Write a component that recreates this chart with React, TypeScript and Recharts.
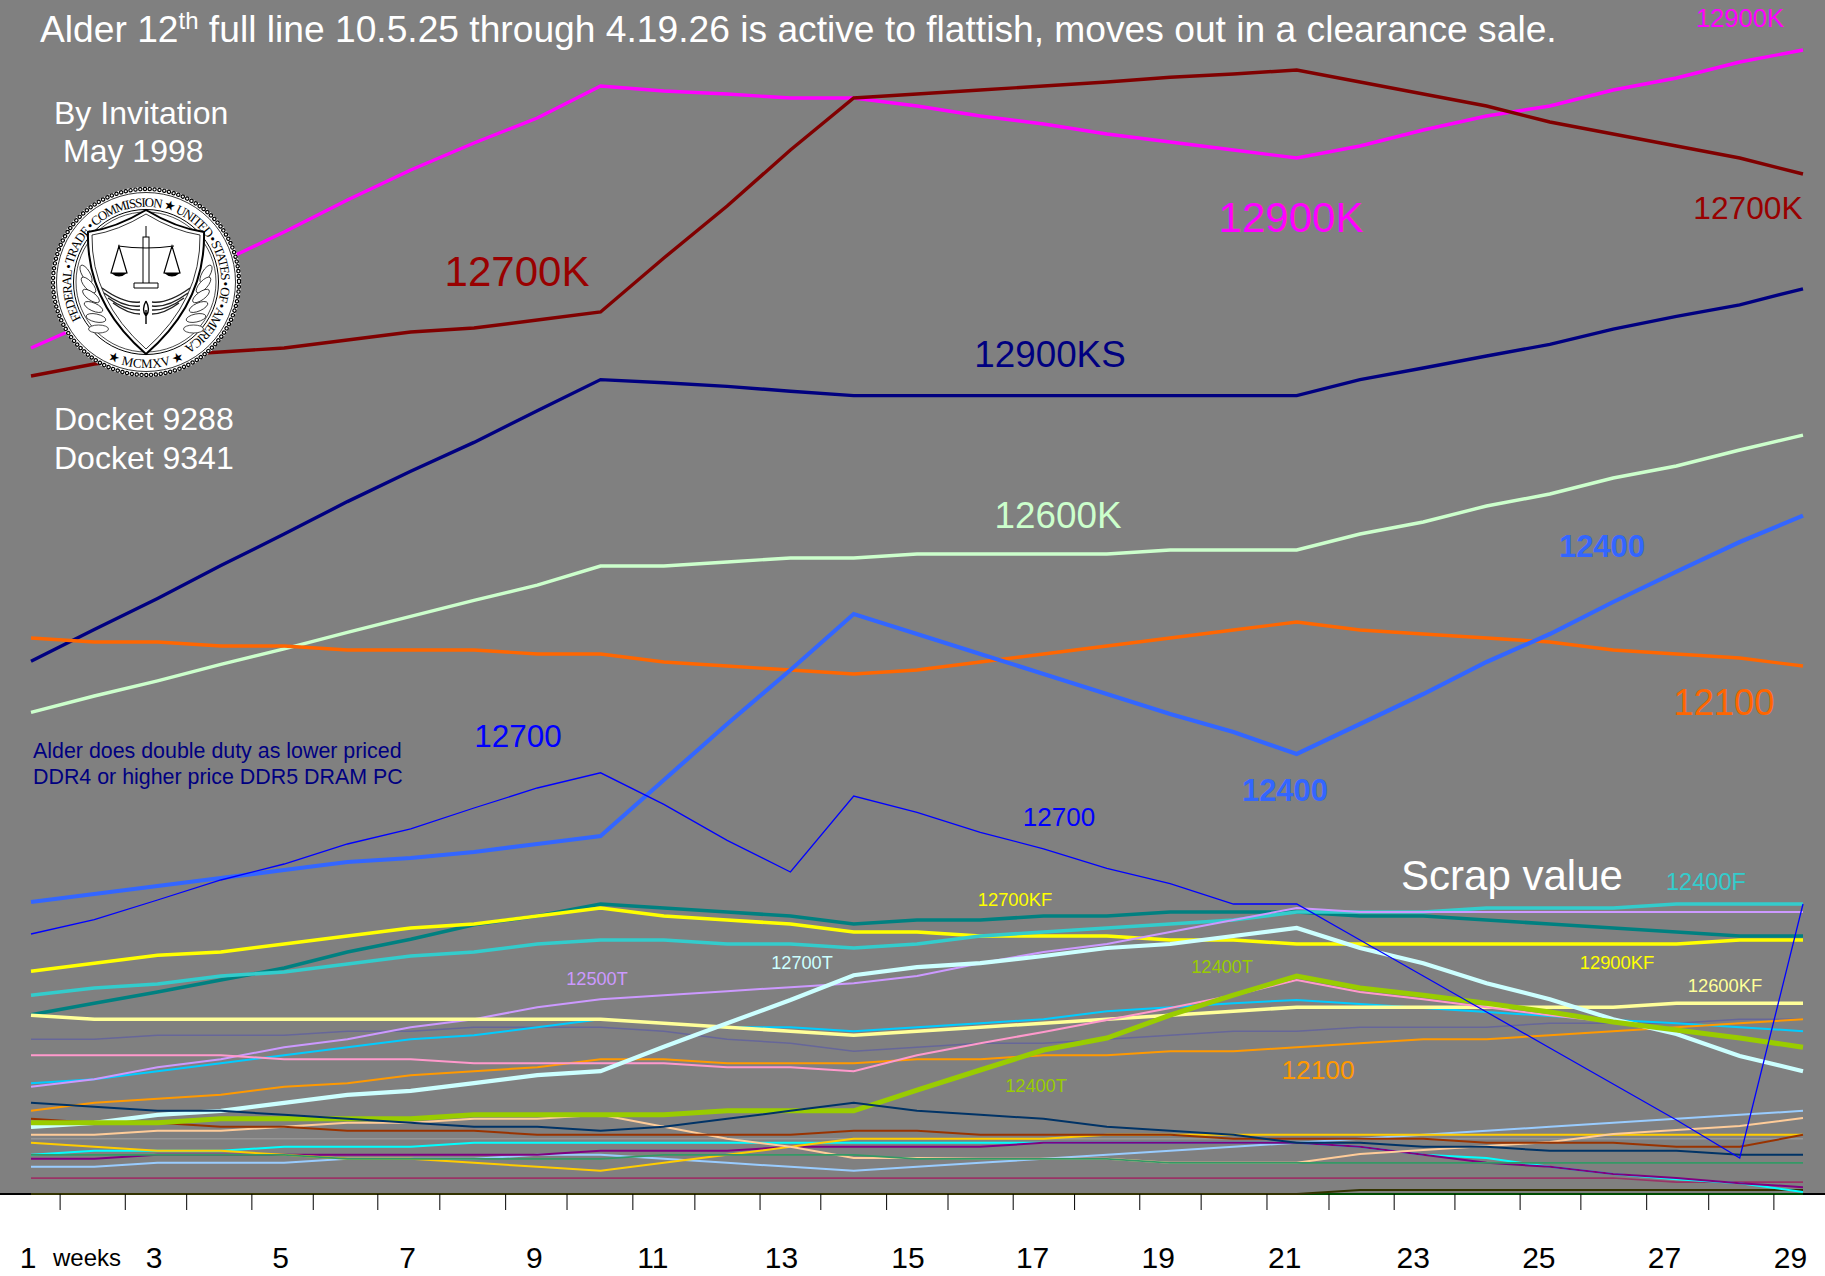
import { LineChart, Line, XAxis, YAxis } from "recharts";

const WEEKS = [1, 2, 3, 4, 5, 6, 7, 8, 9, 10, 11, 12, 13, 14, 15, 16, 17, 18, 19, 20, 21, 22, 23, 24, 25, 26, 27, 28, 29];
const WEEK_LABELS = [1, 3, 5, 7, 9, 11, 13, 15, 17, 19, 21, 23, 25, 27, 29];
const TICK_MARKS = [1.46, 2.49, 3.46, 4.49, 5.46, 6.48, 7.46, 8.5, 9.47, 10.51, 11.49, 12.52, 13.48, 14.52, 15.49, 16.52, 17.49, 18.52, 19.49, 20.53, 21.51, 22.54, 23.5, 24.53, 25.49, 26.53, 27.51, 28.54];

// prices
const i12900K = [211.5, 218.5, 225.75, 233, 240.5, 248.5, 256, 262.75, 269, 277, 275.75, 275, 274, 274, 272, 269.5, 267.5, 265, 263, 261, 259, 262, 266, 269.5, 272, 276, 279, 283, 286];
const i12700K = [204.5, 207.5, 209.5, 210.5, 211.5, 213.5, 215.5, 216.5, 218.5, 220.5, 234, 247, 261, 274, 275, 276, 277, 278, 279.2, 280, 281, 278, 275, 272, 268, 265, 262, 259, 255];
const i12900KS = [133.2, 141.1, 148.9, 157.1, 165, 173.1, 180.7, 187.9, 195.8, 203.6, 202.8, 201.9, 200.7, 199.6, 199.6, 199.6, 199.6, 199.6, 199.6, 199.6, 199.6, 203.6, 206.5, 209.5, 212.4, 216.2, 219.4, 222.3, 226.3];
const i12600K = [120.4, 124.5, 128.3, 132.4, 136.3, 140.4, 144.4, 148.4, 152.2, 157, 157, 158, 159, 159, 160, 160, 160, 160, 161, 161, 161, 165, 168, 172, 175, 179, 182, 186, 189.7];
const i12100F = [139, 138, 138, 137, 137, 136, 136, 136, 135, 135, 133, 132, 131, 130, 131, 133, 135, 137, 139, 141, 143, 141, 140, 139, 138, 136, 135, 134, 132];
const i12400 = [73, 75, 77, 79, 81, 83, 84, 85.5, 87.5, 89.5, 103.5, 117.5, 131, 145, 140, 135, 130, 125, 120, 115.5, 110, 117.5, 125, 133, 140, 148, 155.6, 163, 169.6];
const i12700 = [65, 68.6, 73.5, 78.5, 82.5, 87.5, 91.3, 96.5, 101.5, 105.3, 97.4, 88.4, 80.5, 99.5, 95.4, 90.4, 86.3, 81.4, 77.6, 72.5, 72.5, 63.5, 54.5, 45.5, 36.5, 27.5, 18.5, 9, 72.5];
const i12700KF = [55.7, 57.7, 59.7, 60.5, 62.5, 64.5, 66.5, 67.5, 69.5, 71.5, 69.5, 68.5, 67.5, 65.5, 65.5, 64.5, 64.5, 64.5, 63.5, 63.5, 62.5, 62.5, 62.5, 62.5, 62.5, 62.5, 62.5, 63.5, 63.5];
const i12900KF = [44.8, 47.7, 50.5, 53.5, 56.5, 60.5, 63.7, 67.3, 69.5, 72.5, 71.5, 70.5, 69.5, 67.5, 68.5, 68.5, 69.5, 69.5, 70.5, 70.5, 70.5, 69.5, 69.5, 68.5, 67.5, 66.5, 65.5, 64.5, 64.5];
const i12400F = [49.7, 51.5, 52.5, 54.5, 55.5, 57.5, 59.5, 60.5, 62.5, 63.5, 63.5, 62.5, 62.5, 61.5, 62.5, 64.5, 65.5, 66.5, 67.5, 68.5, 70.5, 70.5, 70.5, 71.5, 71.5, 71.5, 72.5, 72.5, 72.5];
const i12500T = [26.8, 28.7, 31.7, 33.7, 36.7, 38.7, 41.7, 43.7, 46.7, 48.7, 49.7, 50.7, 51.7, 52.7, 54.5, 57.7, 60.5, 62.5, 65.5, 68.5, 71.5, 70.5, 70.5, 70.5, 70.5, 70.5, 70.5, 70.5, 70.5];
const i12700T = [16.8, 17.8, 19.8, 20.8, 22.8, 24.8, 25.8, 27.7, 29.7, 30.7, 36.8, 42.7, 48.5, 54.7, 56.7, 57.7, 59.5, 61.5, 62.5, 64.5, 66.5, 61.5, 57.7, 52.7, 48.7, 43.7, 40, 34.5, 30.7];
const i12600KF = [44.7, 43.7, 43.7, 43.7, 43.7, 43.7, 43.7, 43.7, 43.7, 43.7, 42.7, 41.7, 40.7, 39.7, 40.7, 41.7, 42.7, 43.7, 44.7, 45.7, 46.7, 46.7, 46.7, 46.7, 46.7, 46.7, 47.7, 47.7, 47.7];
const i12500 = [27.7, 28.7, 30.7, 32.7, 34.7, 36.7, 38.7, 39.7, 41.7, 43.7, 42.7, 41.7, 41.7, 40.7, 41.7, 42.7, 43.7, 45.7, 46.7, 47.7, 48.5, 47.5, 46.5, 45.5, 44.5, 43.5, 42.7, 41.7, 40.7];
const i12600T = [38.7, 38.7, 39.7, 39.7, 39.7, 40.7, 40.7, 41.7, 41.7, 41.7, 40.7, 38.7, 37.7, 35.7, 36.7, 37.7, 37.7, 38.7, 39.7, 40.7, 40.7, 41.7, 41.7, 41.7, 42.7, 42.7, 42.7, 43.7, 43.7];
const i12400Tb = [34.7, 34.7, 34.7, 34.7, 33.7, 33.7, 33.7, 32.7, 32.7, 32.7, 32.7, 31.7, 31.7, 30.7, 34.7, 37.7, 40.5, 43.5, 46.5, 49.7, 53.5, 50.5, 48.7, 46.7, 44.7, 43, null, null, null];
const i12400T = [17.8, 17.8, 17.8, 18.8, 18.8, 18.8, 18.8, 19.8, 19.8, 19.8, 19.8, 20.8, 20.8, 20.8, 26, 31, 36, 39, 44.7, 49.7, 54.5, 51.5, 49.7, 47.7, 45.5, 43, 41, 39, 36.7];
const i12100 = [20.8, 22.8, 23.8, 24.8, 26.8, 27.7, 29.7, 30.7, 31.7, 33.7, 33.7, 32.7, 32.7, 32.7, 33.7, 33.7, 34.7, 34.7, 35.7, 35.7, 36.7, 37.7, 38.7, 38.7, 39.7, 40.7, 41.7, 42.7, 43.7];
const p7400 = [22.8, 21.8, 20.8, 20.8, 19.8, 18.8, 17.8, 16.8, 16.8, 15.8, 16.8, 18.8, 20.8, 22.8, 20.8, 19.8, 18.8, 16.8, 15.8, 14.8, 12.8, 12.8, 11.8, 11.8, 10.8, 10.8, 10.8, 9.8, 9.8];
const p7500 = [18.8, 17.8, 17.8, 16.8, 16.8, 15.8, 15.8, 15.8, 14.8, 14.8, 14.8, 14.8, 14.8, 15.8, 15.8, 14.8, 14.8, 14.8, 14.8, 13.8, 13.8, 13.8, 13.8, 12.8, 12.8, 12.8, 11.8, 11.8, 14.8];
const p7600 = [14.8, 14.8, 15.8, 15.8, 16.8, 17.8, 17.8, 18.8, 18.8, 19.8, 16.8, 13.8, 11.8, 9, 9, 8.8, 8.8, 8.8, 7.8, 7.8, 7.8, 10, 11, 12, 13, 15, 16, 17, 19];
const p7700 = [12.8, 11.8, 10.8, 10.8, 9.8, 8.8, 8.8, 7.8, 6.8, 5.8, 7.8, 9.8, 11.8, 13.8, 13.8, 13.8, 13.8, 14.8, 14.8, 14.8, 14.8, 14.8, 14.8, 14.8, 14.8, 14.8, 14.8, 14.8, 14.8];
const p7800 = [9.8, 10.8, 10.8, 10.8, 11.8, 11.8, 11.8, 12.8, 12.8, 12.8, 12.8, 12.8, 12.8, 12.8, 12.8, 12.8, 12.8, 12.8, 12.8, 12.8, 12.8, 11.8, 9.8, 9, 6.8, 5, 3.7, 2.7, 0.5];
const p7900 = [8.8, 8.8, 9.8, 9.8, 9.8, 9.8, 9.8, 9.8, 9.8, 10.8, 10.8, 10.8, 11.8, 11.8, 11.8, 11.8, 12.8, 12.8, 12.8, 12.8, 12.8, 11.8, 9.8, 7.8, 6.8, 5, 4, 2.7, 1.7];
const g7400 = [6.8, 6.8, 7.8, 7.8, 7.8, 8.8, 8.8, 8.8, 9.8, 9.8, 8.8, 7.8, 6.8, 5.8, 6.8, 7.8, 8.8, 9.8, 10.8, 11.8, 12.8, 13.8, 14.8, 15.8, 16.8, 17.8, 18.8, 19.8, 20.8];
const g7500 = [9.8, 9.8, 9.8, 9.8, 9.8, 8.8, 8.8, 8.8, 8.8, 8.8, 9.8, 9.8, 9.8, 9.8, 8.8, 8.8, 8.8, 8.8, 7.8, 7.8, 7.8, 7.8, 7.8, 7.8, 7.8, 7.8, 7.8, 7.8, 7.8];
const g7600 = [4, 4, 4, 4, 4, 4, 4, 4, 4, 4, 4, 4, 4, 4, 4, 4, 4, 4, 4, 4, 4, 4, 4, 4, 4, 4, 3, 3, 3];
const g7700 = [13.8, 13.8, 13.8, 13.8, 13.8, 13.8, 13.8, 13.8, 13.8, 13.8, 13.8, 13.8, 13.8, 13.8, 13.8, 13.8, 13.8, 13.8, 13.8, 13.8, 13.8, 13.8, 13.8, 13.8, 13.8, 13.8, 13.8, 13.8, 13.8];
const g7800 = [0, 0, 0, 0, 0, 0, 0, 0, 0, 0, 0, 0, 0, 0, 0, 0, 0, 0, 0, 0, 0, 1, 1, 1, 1, 1, 1, 1, 1];
const g7900 = [0, 0, 0, 0, 0, 0, 0, 0, 0, 0, 0, 0, 0, 0, 0, 0, 0, 0, 0, 0, 0, 0, 0, 0, 0, 0, 0, 0, 0];

const SERIES: { key: string; values: (number | null)[]; color: string; width: number }[] = [
  { key: "g7900", values: g7900, color: "#006600", width: 1.5 },
  { key: "g7800", values: g7800, color: "#333300", width: 2 },
  { key: "g7700", values: g7700, color: "#969696", width: 1.5 },
  { key: "g7600", values: g7600, color: "#993366", width: 1.75 },
  { key: "12900K", values: i12900K, color: "#ff00ff", width: 3.4 },
  { key: "12700K", values: i12700K, color: "#800000", width: 3.4 },
  { key: "12900KS", values: i12900KS, color: "#000080", width: 3.4 },
  { key: "12600K", values: i12600K, color: "#ccffcc", width: 3.4 },
  { key: "12100F", values: i12100F, color: "#ff6600", width: 3.4 },
  { key: "12400", values: i12400, color: "#3366ff", width: 4.2 },
  { key: "12900KF", values: i12900KF, color: "#008080", width: 3.6 },
  { key: "12700KF", values: i12700KF, color: "#ffff00", width: 3.6 },
  { key: "12400F", values: i12400F, color: "#33cccc", width: 3.6 },
  { key: "12600T", values: i12600T, color: "#666699", width: 1.5 },
  { key: "12500", values: i12500, color: "#00ccff", width: 2 },
  { key: "12500T", values: i12500T, color: "#cc99ff", width: 2 },
  { key: "12100", values: i12100, color: "#ff9900", width: 2 },
  { key: "12600KF", values: i12600KF, color: "#ffff99", width: 3.6 },
  { key: "g7400", values: g7400, color: "#99ccff", width: 2 },
  { key: "p7800", values: p7800, color: "#00ffff", width: 2 },
  { key: "p7900", values: p7900, color: "#800080", width: 2 },
  { key: "p7700", values: p7700, color: "#ffcc00", width: 2 },
  { key: "p7600", values: p7600, color: "#ffcc99", width: 2 },
  { key: "g7500", values: g7500, color: "#339966", width: 1.75 },
  { key: "p7500", values: p7500, color: "#993300", width: 2 },
  { key: "12400Tb", values: i12400Tb, color: "#ff99cc", width: 2 },
  { key: "12700T", values: i12700T, color: "#ccffff", width: 4.2 },
  { key: "12400T", values: i12400T, color: "#99cc00", width: 5 },
  { key: "p7400", values: p7400, color: "#003366", width: 2 },
  { key: "12700", values: i12700, color: "#0000ff", width: 1.3 },
];

const chartData = WEEKS.map((week, i) => {
  const row: Record<string, number | null> = { week };
  for (const s of SERIES) row[s.key] = s.values[i];
  return row;
});

// label text, centre x, centre y, size, colour
const LABELS: [string, number, number, number, string, boolean?][] = [
  ["12900K", 1740, 18, 25.6, "#ff00ff"],
  ["12900K", 1291, 217, 42, "#ff00ff"],
  ["12700K", 517, 271, 42, "#990000"],
  ["12700K", 1748, 208, 31.7, "#990000"],
  ["12900KS", 1050, 354, 36.8, "#000080"],
  ["12600K", 1058, 515, 36.8, "#ccffcc"],
  ["12400", 1602, 546, 31, "#3366ff", true],
  ["12400", 1285, 790, 31, "#3366ff", true],
  ["12100", 1724, 702, 36.4, "#ff6600"],
  ["12700", 518, 736, 31.4, "#0000ff"],
  ["12700", 1059, 817, 26, "#0000ff"],
  ["Scrap value", 1512, 875, 42, "#ffffff"],
  ["12400F", 1706, 882, 23.6, "#33cccc"],
  ["12700KF", 1015, 899, 18.4, "#ffff00"],
  ["12900KF", 1617, 962, 18.4, "#ffff00"],
  ["12600KF", 1725, 985, 18.4, "#ffff99"],
  ["12500T", 597, 979, 18.2, "#cc99ff"],
  ["12700T", 802, 963, 18.2, "#ccffff"],
  ["12400T", 1222, 967, 18.2, "#99cc00"],
  ["12400T", 1036, 1086, 18.2, "#99cc00"],
  ["12100", 1318, 1070, 26.3, "#ff9900"],
  ["weeks", 87, 1257, 24, "#000000"],
];

// the printed week numbers do not sit exactly under the plotted weeks
const WEEK_LABEL_SHIFT: Record<number, number> = {
  1: -3, 3: -3.5, 5: -3.5, 7: -3, 9: -3, 11: -11, 13: -9, 15: -9, 17: -11, 19: -12, 21: -12, 23: -10, 25: -11, 27: -12, 29: -12.5,
};

const FONT = "Arial, 'Liberation Sans', sans-serif";

// one axis carries both the week numbers and the in-between tick marks
function WeekTick({ x, payload }: any) {
  const w = payload.value as number;
  if (!Number.isInteger(w)) {
    return <line x1={x} x2={x} y1={1194} y2={1210} stroke="#000" strokeWidth={1} />;
  }
  return (
    <text x={x + WEEK_LABEL_SHIFT[w]} y={1257} textAnchor="middle" dominantBaseline="central" fontFamily={FONT} fontSize={30} fill="#000">
      {w}
    </text>
  );
}

function Seal() {
  const leaves = [0, 1, 2, 3, 4, 5];
  return (
    <g transform="translate(146 282)">
      <circle r={95} fill="#fff" />
      <circle r={93} fill="none" stroke="#000" strokeWidth={4.4} strokeDasharray="0.1 4.75" strokeLinecap="round" />
      <circle r={93} fill="none" stroke="#fff" strokeWidth={2} strokeDasharray="0.1 4.75" strokeLinecap="round" />
      <circle r={89.5} fill="none" stroke="#000" strokeWidth={0.8} />
      <circle r={72.5} fill="none" stroke="#000" strokeWidth={1} />
      <circle r={70} fill="none" stroke="#000" strokeWidth={0.7} />
      <defs>
        <path id="sealTop" d="M -65 37 A 75 75 0 1 1 39 64" fill="none" />
        <path id="sealBottom" d="M -50 70 A 86 86 0 0 0 50 70" fill="none" />
      </defs>
      <text fontFamily="'Liberation Serif', serif" fontSize={13} fill="#000">
        <textPath href="#sealTop" textLength={352} lengthAdjust="spacing">
          {"FEDERAL • TRADE • COMMISSION ★ UNITED • STATES • OF • AMERICA"}
        </textPath>
      </text>
      <text fontFamily="'Liberation Serif', serif" fontSize={13} fill="#000" textAnchor="middle">
        <textPath href="#sealBottom" startOffset="50%">{"★ MCMXV ★"}</textPath>
      </text>
      {leaves.map((i) => (
        <g key={i}>
          <ellipse cx={-60 + i * 2.5} cy={-8 + i * 11} rx={4} ry={10} fill="#fff" stroke="#000" strokeWidth={0.7} transform={`rotate(${-30 + i * -12} ${-60 + i * 2.5} ${-8 + i * 11})`} />
          <ellipse cx={60 - i * 2.5} cy={-8 + i * 11} rx={4} ry={10} fill="#fff" stroke="#000" strokeWidth={0.7} transform={`rotate(${30 + i * 12} ${60 - i * 2.5} ${-8 + i * 11})`} />
        </g>
      ))}
      <path d="M 0 -72 Q 30 -54 58 -50 Q 60 20 0 72 Q -60 20 -58 -50 Q -30 -54 0 -72 Z" fill="#fff" stroke="#000" strokeWidth={2} />
      <path d="M 0 -68 Q 28 -51 54 -47 Q 55 18 0 67 Q -55 18 -54 -47 Q -28 -51 0 -68 Z" fill="none" stroke="#000" strokeWidth={0.8} />
      {/* scales */}
      <rect x={-3} y={-45} width={6} height={50} fill="#fff" stroke="#000" strokeWidth={1} />
      <path d="M 0 -56 V -45" stroke="#000" strokeWidth={1} />
      <path d="M -12 1 H 12 V 6 H -12 Z" fill="#fff" stroke="#000" strokeWidth={1} />
      <path d="M -28 -36 Q 0 -32 28 -36" fill="none" stroke="#000" strokeWidth={1} />
      <path d="M -27 -36 L -35 -9 H -19 Z M 26 -36 L 18 -9 H 34 Z" fill="#fff" stroke="#000" strokeWidth={1.2} />
      <path d="M -35 -9 Q -27 -2 -19 -9 Z M 18 -9 Q 26 -2 34 -9 Z" fill="#000" />
      {/* wings and caduceus */}
      <path d="M -44 6 Q -22 22 -6 20 M -42 11 Q -22 26 -6 24 M -38 16 Q -20 29 -6 28 M -33 21 Q -18 32 -6 32" fill="none" stroke="#222" strokeWidth={1.4} />
      <path d="M 44 6 Q 22 22 6 20 M 42 11 Q 22 26 6 24 M 38 16 Q 20 29 6 28 M 33 21 Q 18 32 6 32" fill="none" stroke="#222" strokeWidth={1.4} />
      <path d="M 0 19 Q -5 28 0 34 Q 5 28 0 19 M 0 28 V 42" fill="#fff" stroke="#000" strokeWidth={1.4} />
    </g>
  );
}

export default function App() {
  return (
    <div style={{ position: "absolute", left: 0, top: 0, width: 1825, height: 1276, background: "#fff", overflow: "hidden" }}>
      <div style={{ position: "absolute", left: 0, top: 0, width: 1825, height: 1193, background: "#808080" }} />
      <div style={{ position: "absolute", left: 0, top: 1193, width: 1825, height: 2, background: "#000" }} />
      <div style={{ position: "absolute", left: 0, top: 0 }}>
        <LineChart width={1825} height={1276} data={chartData} margin={{ left: 31, right: 22, top: 0, bottom: 0 }}>
          <XAxis dataKey="week" type="number" domain={[1, 29]} ticks={[...WEEK_LABELS, ...TICK_MARKS].sort((a, b) => a - b)} interval={0} height={82} axisLine={false} tickLine={false} tick={<WeekTick />} />
          <YAxis hide domain={[0, 298.5]} />
          {SERIES.map((s) => (
            <Line key={s.key} type="linear" dataKey={s.key} stroke={s.color} strokeWidth={s.width} dot={false} isAnimationActive={false} legendType="none" />
          ))}
        </LineChart>
      </div>
      <svg width={1825} height={1276} style={{ position: "absolute", left: 0, top: 0 }}>
        <Seal />
        <text x={40} y={41.7} fontFamily={FONT} fontSize={37.2} fill="#fff">
          Alder 12<tspan fontSize={24} dy={-13}>th</tspan>
          <tspan dy={13}> full line 10.5.25 through 4.19.26 is active to flattish, moves out in a clearance sale.</tspan>
        </text>
        <text x={54} y={124} fontFamily={FONT} fontSize={32} fill="#fff">By Invitation</text>
        <text x={63} y={162} fontFamily={FONT} fontSize={32} fill="#fff">May 1998</text>
        <text x={54} y={430} fontFamily={FONT} fontSize={32} fill="#fff">Docket 9288</text>
        <text x={54} y={469} fontFamily={FONT} fontSize={32} fill="#fff">Docket 9341</text>
        <text x={33} y={758} fontFamily={FONT} fontSize={21.4} fill="#000080">Alder does double duty as lower priced</text>
        <text x={33} y={784} fontFamily={FONT} fontSize={21.4} fill="#000080">DDR4 or higher price DDR5 DRAM PC</text>
        {LABELS.map(([t, x, y, size, color, bold], i) => (
          <text key={i} x={x} y={y} textAnchor="middle" dominantBaseline="central" fontFamily={FONT} fontSize={size} fill={color} fontWeight={bold ? 700 : 400}>
            {t}
          </text>
        ))}
      </svg>
    </div>
  );
}
